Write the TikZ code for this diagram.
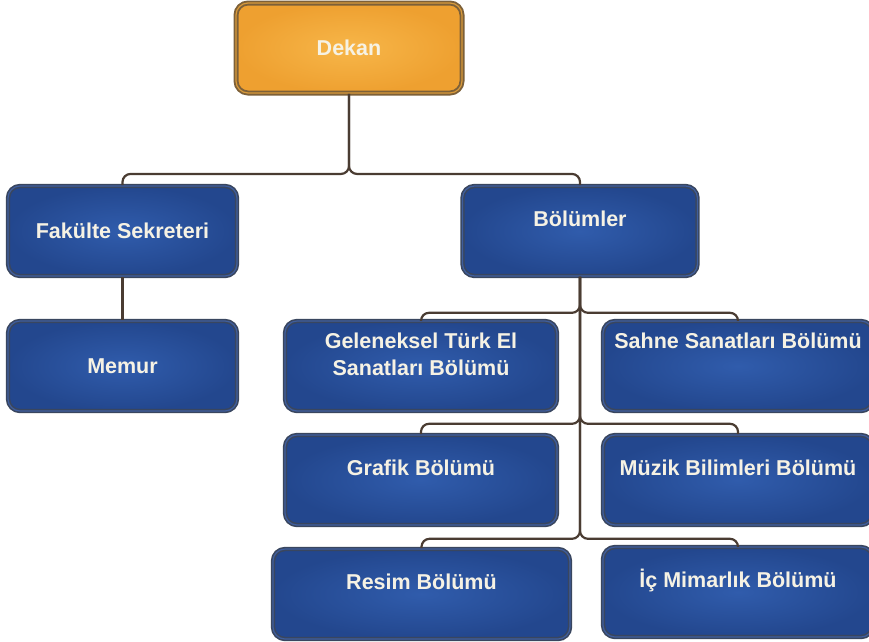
\documentclass[tikz,border=0pt]{standalone}
\usepackage{fontspec}
\setmainfont{Liberation Sans}
\definecolor{UnitRim}{HTML}{39465F}
\definecolor{UnitMid}{HTML}{3F5E9E}
\definecolor{UnitLight}{HTML}{305CAC}
\definecolor{UnitDark}{HTML}{23478E}
\definecolor{DeanRim}{HTML}{7D6038}
\definecolor{DeanMid}{HTML}{D99A3A}
\definecolor{DeanLight}{HTML}{F7B649}
\definecolor{DeanDark}{HTML}{EEA030}
\definecolor{Chalk}{HTML}{F6F2E4}
\definecolor{Link}{HTML}{4A3C32}

\begin{document}
\begin{tikzpicture}[x=1pt, y=-1pt,
        every node/.append style={font=\fontsize{21.5}{27}\selectfont\bfseries, text=Chalk}]
      \tikzstyle{unit} = [rectangle, rounded corners=12pt, draw=UnitRim, line width=1.6pt,
        double=UnitMid, double distance=1.2pt, inner color=UnitLight, outer color=UnitDark,
        minimum height=90pt, inner sep=0pt]
      \tikzstyle{dean} = [unit, draw=DeanRim, line width=1.9pt, double=DeanMid, inner color=DeanLight, outer color=DeanDark]
      \tikzstyle{midtext} = [text height=52pt, text depth=38pt]
      \tikzstyle{hightext} = [text height=40pt, text depth=50pt]
      \tikzstyle{toptext} = [text height=27pt, text depth=63pt]
      \tikzstyle{twolines} = [align=center, text height=54pt, text depth=36pt]
      \tikzstyle{link} = [draw=Link, line width=2.2pt, rounded corners=8pt]
      \useasboundingbox (0,0) rectangle (869,641);
      \node (Dekan) [dean, midtext, minimum width=226pt] at (349,48) {Dekan};
      \node (Sekreter) [unit, midtext, minimum width=229pt] at (122.5,231) {Fakülte Sekreteri};
      \node (Bolumler) [unit, hightext, minimum width=235pt] at (580,231) {Bölümler};
      \node (Memur) [unit, midtext, minimum width=229pt] at (122.5,366) {Memur};
      \node (Gelenek) [unit, twolines, minimum width=272pt] at (421,366) {Geleneksel Türk El\\Sanatları Bölümü};
      \node (Sahne) [unit, toptext, minimum width=270pt] at (738,366) {Sahne Sanatları Bölümü};
      \node (Grafik) [unit, hightext, minimum width=272pt] at (421,480) {Grafik Bölümü};
      \node (Muzik) [unit, hightext, minimum width=270pt] at (738,480) {Müzik Bilimleri Bölümü};
      \node (Resim) [unit, hightext, minimum width=297pt] at (421.5,594) {Resim Bölümü};
      \node (IcMimari) [unit, hightext, minimum width=270pt] at (738,592) {İç Mimarlık Bölümü};
      \draw [link] (Dekan.south) -- ++(0,80) -| (Sekreter.north);
      \draw [link] (Dekan.south) -- ++(0,80) -| (Bolumler.north);
      \draw [link] (Sekreter) -- (Memur);
      \foreach \one/\two/\down in {Gelenek/Sahne/36, Grafik/Muzik/147, Resim/IcMimari/262}
      {
        \draw [link] (Bolumler.south) -- ++(0,\down) -| (\one.north);
        \draw [link] (Bolumler.south) -- ++(0,\down) -| (\two.north);
      }
    \end{tikzpicture}
\end{document}
